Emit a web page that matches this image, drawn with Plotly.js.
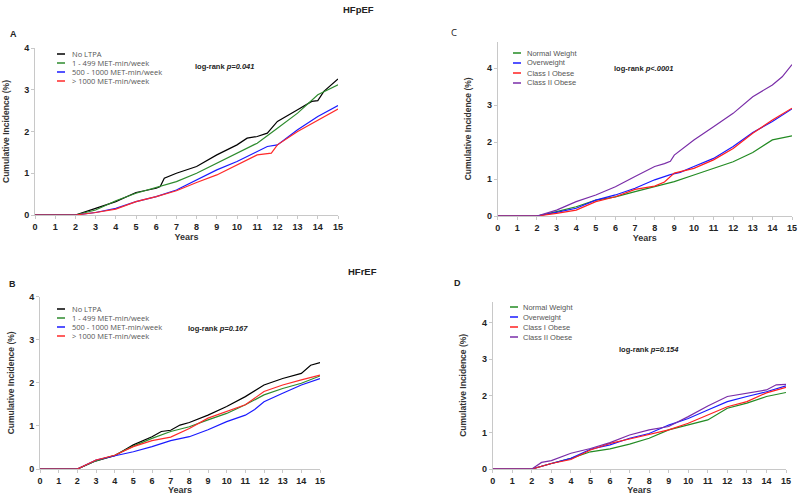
<!DOCTYPE html>
<html>
<head>
<meta charset="utf-8">
<script src="https://cdn.plot.ly/plotly-3.0.1.min.js"></script>
<style>html,body{margin:0;padding:0;background:#fff;}#chart{width:800px;height:495px;}</style>
</head>
<body>
<div id="chart"></div>
<script>
// ---- data ----
var years = [0, 2, 3, 4, 5, 6, 7, 8, 9, 10, 11, 12, 13, 14, 15];

var ltpaLabels = ["No LTPA", "1 - 499 MET-min/week", "500 - 1000 MET-min/week", "> 1000 MET-min/week"];
var bmiLabels = ["Normal Weight", "Overweight", "Class I Obese", "Class II Obese"];

// Panel A: HFpEF by LTPA
var A_noLTPA_x = [0, 2, 3, 4, 5, 6, 6.2, 6.4, 7, 8, 9, 10, 10.5, 11, 11.5, 12, 13, 13.7, 14, 14.3, 15];
var A_noLTPA = [0, 0, 0.16, 0.32, 0.54, 0.64, 0.68, 0.88, 1.00, 1.16, 1.44, 1.68, 1.84, 1.88, 1.96, 2.24, 2.52, 2.72, 2.74, 2.96, 3.26];
var A_1to499 = [0, 0, 0.12, 0.34, 0.52, 0.66, 0.80, 1.00, 1.24, 1.48, 1.72, 2.08, 2.44, 2.88, 3.12];
var A_500to1000_x = [0, 2, 3, 4, 5, 6, 7, 8, 9, 10, 11, 11.5, 12, 13, 14, 15];
var A_500to1000 = [0, 0, 0.06, 0.16, 0.32, 0.44, 0.60, 0.84, 1.08, 1.28, 1.52, 1.64, 1.68, 2.04, 2.36, 2.62];
var A_over1000_x = [0, 2, 3, 4, 5, 6, 7, 8, 9, 10, 11, 11.7, 12, 13, 14, 15];
var A_over1000 = [0, 0, 0.06, 0.14, 0.32, 0.44, 0.58, 0.78, 0.96, 1.20, 1.44, 1.48, 1.68, 2.00, 2.28, 2.54];

// Panel B: HFrEF by LTPA
var B_noLTPA_x = [0, 2, 3, 4, 5, 6, 6.5, 7, 7.5, 8, 9, 10, 11, 12, 13, 14, 14.5, 15];
var B_noLTPA = [0, 0, 0.19, 0.31, 0.56, 0.75, 0.87, 0.90, 1.02, 1.08, 1.25, 1.45, 1.68, 1.95, 2.10, 2.22, 2.41, 2.47];
var B_1to499 = [0, 0, 0.19, 0.32, 0.53, 0.71, 0.87, 0.98, 1.14, 1.29, 1.49, 1.72, 1.87, 1.99, 2.16];
var B_500to1000_x = [0, 2, 3, 4, 5, 6, 7, 8, 9, 10, 11, 11.5, 12, 13, 14, 15];
var B_500to1000 = [0, 0, 0.21, 0.31, 0.40, 0.52, 0.66, 0.75, 0.91, 1.10, 1.25, 1.38, 1.56, 1.76, 1.95, 2.10];
var B_over1000 = [0, 0, 0.21, 0.32, 0.52, 0.66, 0.74, 0.94, 1.18, 1.33, 1.49, 1.80, 1.95, 2.07, 2.18];

// Panel C: HFpEF by BMI
var C_normal = [0, 0, 0.12, 0.25, 0.43, 0.52, 0.66, 0.79, 0.93, 1.11, 1.29, 1.47, 1.72, 2.06, 2.17];
var C_over_x = [0, 2, 3, 4, 5, 6, 7, 8, 8.8, 9.3, 10, 11, 12, 13, 14, 15];
var C_over = [0, 0, 0.10, 0.21, 0.43, 0.57, 0.75, 0.98, 1.12, 1.18, 1.34, 1.56, 1.88, 2.26, 2.56, 2.90];
var C_class1_x = [0, 2, 3, 4, 5, 6, 7, 8, 8.5, 8.8, 9, 10, 11, 12, 13, 14, 15];
var C_class1 = [0, 0, 0.07, 0.16, 0.39, 0.52, 0.72, 0.81, 0.92, 1.05, 1.16, 1.29, 1.52, 1.83, 2.24, 2.60, 2.92];
var C_class2_x = [0, 2, 3, 4, 5, 6, 7, 8, 8.5, 8.8, 9, 10, 11, 12, 13, 14, 14.5, 15];
var C_class2 = [0, 0, 0.16, 0.39, 0.57, 0.79, 1.07, 1.34, 1.42, 1.48, 1.65, 2.06, 2.42, 2.78, 3.23, 3.55, 3.77, 4.10];

// Panel D: HFrEF by BMI
var D_normal = [0, 0, 0.15, 0.29, 0.47, 0.55, 0.68, 0.84, 1.07, 1.20, 1.34, 1.66, 1.80, 1.98, 2.09];
var D_over = [0, 0, 0.15, 0.29, 0.54, 0.66, 0.84, 0.97, 1.20, 1.38, 1.61, 1.84, 1.98, 2.11, 2.27];
var D_class1 = [0, 0, 0.15, 0.26, 0.52, 0.70, 0.82, 0.95, 1.07, 1.25, 1.48, 1.70, 1.84, 2.08, 2.23];
var D_class2_x = [0, 2, 2.5, 3, 4, 5, 6, 7, 8, 9, 10, 11, 12, 13, 14, 14.5, 15];
var D_class2 = [0, 0, 0.18, 0.23, 0.43, 0.56, 0.72, 0.93, 1.07, 1.16, 1.43, 1.72, 1.98, 2.07, 2.16, 2.30, 2.31];

var xTicks = [0,1,2,3,4,5,6,7,8,9,10,11,12,13,14,15];
var yTicks = [0,1,2,3,4];

// ---- styling ----
var ltpaColors = ["#000000", "#2e8b2e", "#1a1aff", "#ff2a2a"];
var bmiColors = ["#238b23", "#1a1aff", "#ff2020", "#7a2ea8"];

var traces = [];
function addPanel(xs, series, labels, colors, xa, ya) {
  series.forEach(function (s, i) {
    traces.push({
      x: xs[i], y: s, type: 'scatter', mode: 'lines', name: labels[i],
      line: {color: colors[i], width: 1.2},
      xaxis: xa, yaxis: ya, showlegend: false
    });
  });
}
addPanel([A_noLTPA_x, years, A_500to1000_x, A_over1000_x], [A_noLTPA, A_1to499, A_500to1000, A_over1000], ltpaLabels, ltpaColors, 'x', 'y');
addPanel([B_noLTPA_x, years, B_500to1000_x, years], [B_noLTPA, B_1to499, B_500to1000, B_over1000], ltpaLabels, ltpaColors, 'x2', 'y2');
addPanel([years, C_over_x, C_class1_x, C_class2_x], [C_normal, C_over, C_class1, C_class2], bmiLabels, bmiColors, 'x3', 'y3');
addPanel([years, years, years, D_class2_x], [D_normal, D_over, D_class1, D_class2], bmiLabels, bmiColors, 'x4', 'y4');

var tickFont = {family: 'Liberation Sans, Arial, sans-serif', size: 9, color: '#222', weight: 'bold'};
var titleFont = {family: 'Liberation Sans, Arial, sans-serif', size: 8.5, color: '#333', weight: 'bold'};

function xax(domain, anchor) {
  return {
    domain: domain, anchor: anchor, range: [0, 15], tickvals: xTicks,
    showgrid: false, zeroline: false, showline: true, linecolor: '#c8c8c8', linewidth: 1,
    ticks: 'outside', ticklen: 3, tickcolor: '#c8c8c8', tickfont: tickFont,
    title: {text: 'Years', font: {family: 'Liberation Sans, Arial, sans-serif', size: 9, color: '#333', weight: 'bold'}, standoff: 0}
  };
}
function yax(domain, anchor, maxv) {
  return {
    domain: domain, anchor: anchor, range: [0, maxv], tickvals: yTicks,
    showgrid: false, zeroline: false, showline: true, linecolor: '#c8c8c8', linewidth: 1,
    ticks: 'outside', ticklen: 3, tickcolor: '#c8c8c8', tickfont: tickFont,
    title: {text: 'Cumulative Incidence (%)', font: titleFont, standoff: 13}
  };
}

var legFont = {family: 'Open Sans, Liberation Sans, sans-serif', size: 7.5, color: '#555'};
var legFont2 = {family: 'Liberation Sans, Arial, sans-serif', size: 7.5, color: '#555'};
var annotations = [];
var shapes = [];
function legend(labels, colors, x1, x2, xt, y0, dy, font) {
  labels.forEach(function (l, i) {
    var yy = 1 - (y0 + i * dy) / 495;
    shapes.push({type: 'line', xref: 'paper', yref: 'paper', x0: x1 / 800, x1: x2 / 800, y0: yy, y1: yy,
      line: {color: colors[i], width: 1.5}});
    annotations.push({
      xref: 'paper', yref: 'paper', x: xt / 800, y: yy,
      xanchor: 'left', yanchor: 'middle', showarrow: false, font: font, text: l
    });
  });
}
legend(ltpaLabels, ltpaColors, 57, 65, 69.5, 54, 9, legFont);
legend(ltpaLabels, ltpaColors, 57, 65, 69.5, 309, 9, legFont);
legend(bmiLabels, bmiColors, 513, 521, 524.5, 53, 10, legFont2);
legend(bmiLabels, bmiColors, 510, 518, 520.5, 307, 10, legFont2);

function txt(t, x, y, size, font, anchor) {
  annotations.push({xref: 'paper', yref: 'paper', x: x / 800, y: 1 - y / 495,
    xanchor: anchor || 'center', yanchor: 'middle', showarrow: false, text: t,
    font: {family: font || 'Liberation Sans, Arial, sans-serif', size: size, color: '#222'}});
}
txt('<b>HFpEF</b>', 358, 9, 9.5);
txt('<b>HFrEF</b>', 362, 271, 9.5);
txt('<b>A</b>', 13, 34, 9);
txt('<b>B</b>', 12, 284, 9);
txt('C', 454, 33, 9.5, 'Open Sans, sans-serif');
txt('<b>D</b>', 457, 283, 9);
txt('<b>log-rank <i>p=0.041</i></b>', 193, 67, 7.5, null, 'left');
txt('<b>log-rank <i>p=0.167</i></b>', 186, 328, 7.5, null, 'left');
txt('<b>log-rank <i>p&lt;.0001</i></b>', 612, 68, 7.5, null, 'left');
txt('<b>log-rank <i>p=0.154</i></b>', 617, 349, 7.5, null, 'left');

var layout = {
  width: 800, height: 495, margin: {l: 0, r: 0, t: 0, b: 0},
  paper_bgcolor: '#fff', plot_bgcolor: '#fff', showlegend: false,
  xaxis: xax([35 / 800, 338 / 800], 'y'),
  yaxis: yax([1 - 215 / 495, 1 - 48 / 495], 'x', 4),
  xaxis2: xax([40 / 800, 320 / 800], 'y2'),
  yaxis2: yax([1 - 469 / 495, 1 - 296.7 / 495], 'x2', 4),
  xaxis3: xax([497.7 / 800, 792 / 800], 'y3'),
  yaxis3: yax([1 - 216 / 495, 1 - 41.7 / 495], 'x3', 4.72),
  xaxis4: xax([492.7 / 800, 786 / 800], 'y4'),
  yaxis4: yax([1 - 469 / 495, 1 - 301.7 / 495], 'x4', 4.57),
  annotations: annotations,
  shapes: shapes
};

Plotly.newPlot('chart', traces, layout, {displayModeBar: false, staticPlot: true});
</script>
</body>
</html>
